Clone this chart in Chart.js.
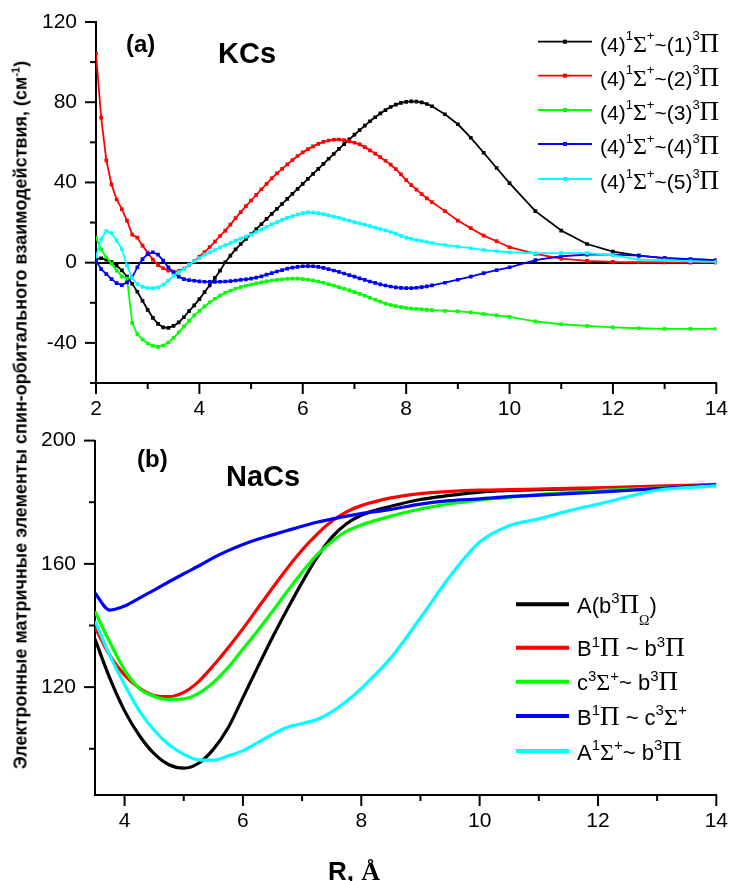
<!DOCTYPE html>
<html><head><meta charset="utf-8">
<script src="https://cdn.jsdelivr.net/npm/chart.js@4.4.1/dist/chart.umd.min.js"></script>
<style>
html,body{margin:0;padding:0;background:#fff;}
#wrap{position:relative;width:731px;height:881px;overflow:hidden;background:#fff;}
#ca{position:absolute;left:0;top:0;}
#cb{position:absolute;left:0;top:420px;}
#ylab{position:absolute;left:21px;top:415px;transform:translate(-50%,-50%) rotate(-90deg);white-space:nowrap;font:bold 18px "Liberation Sans",Arial,sans-serif;color:#000;}
#ylab sup{font-size:11px;vertical-align:7px;line-height:0;}
</style></head>
<body>
<div id="wrap">
<canvas id="ca" width="731" height="420" style="width:731px;height:420px"></canvas>
<canvas id="cb" width="731" height="461" style="width:731px;height:461px"></canvas>
<div id="ylab">Электронные матричные элементы спин-орбитального взаимодействия, (см<sup>-1</sup>)</div>
</div>
<script>
// ---------- Panel (a) KCs ----------
const rA = [2.0,2.1,2.2,2.3,2.4,2.5,2.6,2.7,2.8,2.9,
            3.0,3.1,3.2,3.3,3.4,3.5,3.6,3.7,3.8,3.9,
            4.0,4.1,4.2,4.3,4.4,4.5,4.6,4.7,4.8,4.9,
            5.0,5.1,5.2,5.3,5.4,5.5,5.6,5.7,5.8,5.9,
            6.0,6.1,6.2,6.3,6.4,6.5,6.6,6.7,6.8,6.9,
            7.0,7.1,7.2,7.3,7.4,7.5,7.6,7.7,7.8,7.9,
            8.0,8.1,8.2,8.3,8.4,8.5,8.75,9.0,9.25,9.5,
            9.75,10.0,10.5,11.0,11.5,12.0,12.5,13.0,13.5,14.0];
const kcs1 = [1.8,2.2,1.5,0.3,-1.5,-3.8,-7,-10.5,-14.5,-19,
              -23.5,-27.5,-30.5,-32.3,-32.5,-31.5,-29.8,-27.2,-24.2,-21.3,
              -18.2,-14.7,-11.3,-7.6,-4,0.2,3.5,6.6,9.3,11.8,
              14.2,16.7,19.2,21.8,24.3,26.8,29.3,31.8,34.3,36.8,
              39.3,41.8,44.3,46.8,49.3,51.8,54.2,56.7,59.1,61.5,
              63.8,66.1,68.3,70.5,72.5,74.4,76.1,77.6,78.8,79.7,
              80.2,80.4,80.3,79.9,79.1,78,74,69,62.3,54.8,
              47.2,39.7,25.7,16,9.3,5.5,3.5,2.3,1.7,1.2];
const kcs2 = [104.3,72.3,51,39,31.5,26.7,21,14,12.5,8.5,
              5,1.5,-1.2,-2.8,-4,-4.5,-4.2,-3,-1.3,0.8,
              3,5.3,7.8,10.5,13.3,16,19,22.2,25.2,28.2,
              31,33.8,36.6,39.3,42,44.5,46.8,49,51.2,53.2,
              55,56.6,58,59.2,60.2,60.9,61.3,61.4,61.1,60.5,
              59.8,59,57.6,56,54.4,52.6,50.8,48.9,46.6,44,
              41.2,38.7,36.4,34.2,32.1,30.2,25.7,21,17.2,13.5,
              10.7,7.7,4.4,2,0.9,0.4,0.2,0.1,0,0];
const kcs3 = [12.5,6.5,2.7,-0.5,-4,-6.8,-8,-30,-35.7,-38.3,
              -40.3,-41.5,-42,-41.3,-39.8,-37.5,-34.8,-31.8,-29,-26.3,
              -24,-21.8,-19.8,-18,-16.4,-15,-14,-13,-12.2,-11.5,
              -10.9,-10.3,-9.8,-9.3,-8.9,-8.6,-8.3,-8.1,-8,-8,
              -8.2,-8.5,-8.9,-9.4,-10,-10.7,-11.4,-12.2,-13,-13.8,
              -14.7,-15.6,-16.5,-17.5,-18.5,-19.5,-20.4,-21.1,-21.7,-22.2,
              -22.6,-22.9,-23.1,-23.3,-23.5,-23.7,-24,-24.3,-24.8,-25.6,
              -26.3,-27,-29.3,-30.7,-31.5,-32.3,-32.7,-33,-33,-33];
const kcs4 = [1,-3.2,-5.7,-8.2,-10.2,-11.2,-9.8,-7.3,-2.3,1.8,
              4.3,5.2,4,1,-2.3,-4.8,-7,-8.2,-8.7,-9,
              -9.3,-9.5,-9.6,-9.6,-9.5,-9.4,-9.2,-8.9,-8.6,-8.3,
              -8,-7.5,-6.8,-6,-5.2,-4.4,-3.7,-3,-2.5,-2.1,
              -1.8,-1.7,-1.8,-2.1,-2.6,-3.2,-3.9,-4.6,-5.4,-6.2,
              -7,-7.8,-8.6,-9.4,-10.1,-10.8,-11.4,-11.9,-12.3,-12.6,
              -12.7,-12.7,-12.5,-12.2,-11.8,-11.3,-10,-8.5,-7,-5.2,
              -3.7,-2.3,1.3,3.2,4,4,3.5,2.3,1.7,1.3];
const kcs5 = [3,11.8,15.7,14.7,11,6.8,-1.5,-7.7,-10.7,-12,
              -12.7,-12.7,-12.3,-11,-9,-6.5,-4.8,-3.2,-1,0.7,
              2.3,4,5.2,6.3,7.7,8.8,9.8,11,12,13,
              14,15.3,16.6,17.9,19.1,20.2,21.3,22.3,23.2,24,
              24.7,25.1,25,24.7,24.2,23.6,23,22.3,21.6,20.9,
              20.2,19.6,18.9,18.2,17.5,16.8,16.1,15.3,14.5,13.4,
              12.5,11.9,11.3,10.8,10.3,9.8,8.8,8,7.2,6.3,
              5.7,5.2,4.7,4.8,4.8,3.8,1.5,1.2,0.7,0.4];
const seriesA = [kcs1,kcs2,kcs3,kcs4,kcs5];
const labelsA = ['(4)^{1}Σ^{+}~(1)^{3}Π','(4)^{1}Σ^{+}~(2)^{3}Π','(4)^{1}Σ^{+}~(3)^{3}Π','(4)^{1}Σ^{+}~(4)^{3}Π','(4)^{1}Σ^{+}~(5)^{3}Π'];
const xTicksA = [2,3,4,5,6,7,8,9,10,11,12,13,14];
const xLabelsA = [2,4,6,8,10,12,14];
const yTicksA = [-60,-40,-20,0,20,40,60,80,100,120];
const yLabelsA = [-40,0,40,80,120];

// ---------- Panel (b) NaCs ----------
const rB = [3.5,3.75,4,4.25,4.5,4.75,5,5.25,5.5,5.75,6,6.25,6.5,6.75,7,7.25,7.5,7.75,8,8.5,9,9.5,10,10.5,11,11.5,12,13,14];
const nacsA  = [135.6,122.9,112.3,104.3,98.4,94.8,93.7,95.3,99.8,106.8,116.6,126.5,136.2,145.3,154,162,168.6,173,175.8,178.7,180.9,182.2,183.3,183.8,184.1,184.3,184.5,185,185.6];
const nacsB  = [139.4,130.3,123.9,119.7,117.3,116.9,118.3,121.8,127,132.8,139,145.6,152.2,158.6,164.5,169.6,173.8,176.9,178.9,181.4,182.8,183.5,183.9,184.1,184.3,184.5,184.7,185.2,185.8];
const nacsC  = [144.6,134.6,125.6,119.5,117,116,116.2,118,121.5,126.4,132.4,138.3,144.6,151.1,157.3,162.9,167.2,170.6,172.6,175.5,177.8,179.5,180.7,181.6,182.5,183.1,183.8,184.6,185.4];
const nacsD  = [150.5,145,146.3,148.9,151.5,154.2,156.8,159.3,162,164.3,166.3,168,169.4,170.8,172.2,173.5,174.5,175.5,176.3,177.7,179.4,180.5,181.1,181.8,182.3,182.8,183.3,184.4,185.6];
const nacsE  = [141.5,130.3,120.8,112.3,106,101.3,98.2,96.4,96.3,97.7,99.4,102,104.7,107,108.2,109.5,112,115.4,119.6,129.5,142.5,156,167.1,172.4,174.6,177.2,179.4,183.9,185.3];
const seriesB = [nacsA,nacsB,nacsC,nacsD,nacsE];
const labelsB = ['A(b^{3}Π_{Ω})','B^{1}Π ~ b^{3}Π','c^{3}Σ^{+}~ b^{3}Π','B^{1}Π ~ c^{3}Σ^{+}','A^{1}Σ^{+}~ b^{3}Π'];
const xTicksB = [4,5,6,7,8,9,10,11,12,13,14];
const xLabelsB = [4,6,8,10,12,14];
const yTicksB = [100,120,140,160,180,200];
const yLabelsB = [120,160,200];

const colors = ['#000000','#ff0000','#00ff00','#0000ff','#00ffff'];
const SANS = '"Liberation Sans", Arial, sans-serif';
const SERIF = '"Liberation Serif", "Times New Roman", serif';

function parseRuns(s){
  const runs=[]; let i=0;
  while(i<s.length){
    if((s[i]==='^'||s[i]==='_') && s[i+1]==='{'){
      const j=s.indexOf('}',i);
      runs.push({k:s[i]==='^'?'sup':'sub',t:s.slice(i+2,j)}); i=j+1; continue;
    }
    const ch=s[i];
    if('ΣΠΩ'.includes(ch)) runs.push({k:'g',t:ch});
    else { if(runs.length && runs[runs.length-1].k==='n') runs[runs.length-1].t+=ch; else runs.push({k:'n',t:ch}); }
    i++;
  }
  return runs;
}
function drawRich(ctx,x,y,str,st){
  let cx=x;
  for(const r of parseRuns(str)){
    let dy=0;
    if(r.k==='n') ctx.font=`${st.size}px ${SANS}`;
    else if(r.k==='g') ctx.font=`${r.t==='Π'?st.pi:st.sig}px ${SERIF}`;
    else if(r.k==='sup'){ ctx.font=`${st.sup}px ${SANS}`; dy=-st.supDy; }
    else { ctx.font=`${st.om}px ${SERIF}`; dy=st.subDy; }
    ctx.fillText(r.t,cx,y+dy);
    cx+=ctx.measureText(r.t).width;
  }
}

const tickPlugin = {
  id:'axisTicks',
  afterDraw(chart,args,o){
    const ctx=chart.ctx, ca=chart.chartArea, xs=chart.scales.x, ys=chart.scales.y;
    ctx.save(); ctx.strokeStyle='#000'; ctx.lineWidth=2;
    for(const t of xs.ticks){
      const p=xs.getPixelForValue(t.value), len=o.xMajor.includes(t.value)?11:6;
      ctx.beginPath(); ctx.moveTo(p,ca.bottom); ctx.lineTo(p,ca.bottom+len); ctx.stroke();
    }
    for(const t of ys.ticks){
      const p=ys.getPixelForValue(t.value), len=o.yMajor.includes(t.value)?11:6;
      ctx.beginPath(); ctx.moveTo(ca.left,p); ctx.lineTo(ca.left-len,p); ctx.stroke();
    }
    ctx.restore();
  }
};

const annoPlugin = {
  id:'anno',
  afterDraw(chart,args,o){
    const ctx=chart.ctx;
    ctx.save(); ctx.fillStyle='#000'; ctx.textBaseline='alphabetic'; ctx.textAlign='left';
    for(const t of o.texts){ ctx.font=t.font; ctx.fillText(t.text,t.x,t.y); }
    const L=o.legend;
    L.labels.forEach((lab,i)=>{
      const y=L.y[i];
      ctx.strokeStyle=colors[i]; ctx.lineWidth=L.lw;
      ctx.beginPath(); ctx.moveTo(L.x0,y); ctx.lineTo(L.x1,y); ctx.stroke();
      if(L.marker){ ctx.fillStyle=colors[i]; ctx.fillRect((L.x0+L.x1)/2-L.marker/2,y-L.marker/2,L.marker,L.marker); }
      ctx.fillStyle='#000';
      drawRich(ctx,L.tx,y+L.base,lab,L.st);
    });
    if(o.xTitle){
      ctx.font=`bold 26px ${SANS}`; ctx.fillText('R, ',o.xTitle.x,o.xTitle.y);
      const w=ctx.measureText('R, ').width;
      ctx.font=`bold 26px ${SERIF}`; ctx.fillText('Å',o.xTitle.x+w,o.xTitle.y);
    }
    ctx.restore();
  }
};

const tickFont={family:SANS,size:21};
function makeScales(cfg){
  return {
    x:{type:'linear',min:cfg.xmin,max:cfg.xmax,
       afterBuildTicks:s=>{s.ticks=cfg.xTicks.map(v=>({value:v}));},
       afterFit:s=>{s.height=cfg.xh;},
       ticks:{autoSkip:false,maxRotation:0,minRotation:0,padding:3,color:'#000',font:tickFont,
              callback:v=>cfg.xLabels.includes(v)?String(v):''},
       grid:{display:true,drawOnChartArea:false,drawTicks:true,tickLength:11,tickColor:'rgba(0,0,0,0)',color:'rgba(0,0,0,0)'},
       border:{display:true,color:'#000',width:2}},
    y:{type:'linear',min:cfg.ymin,max:cfg.ymax,
       afterBuildTicks:s=>{s.ticks=cfg.yTicks.map(v=>({value:v}));},
       afterFit:s=>{s.width=cfg.yw;},
       ticks:{autoSkip:false,padding:8,color:'#000',font:tickFont,
              callback:v=>cfg.yLabels.includes(v)?String(v):''},
       grid:{display:true,drawOnChartArea:cfg.zeroLine,drawTicks:true,tickLength:11,tickColor:'rgba(0,0,0,0)',
             lineWidth:2,color:c=>(cfg.zeroLine&&c.tick&&c.tick.value===0)?'#000':'rgba(0,0,0,0)'},
       border:{display:true,color:'#000',width:2}}
  };
}

new Chart(document.getElementById('ca'),{
  type:'line',
  data:{datasets:seriesA.map((vals,i)=>({
    label:labelsA[i],
    data:rA.map((x,j)=>({x:x,y:vals[j]})),
    borderColor:colors[i],backgroundColor:colors[i],borderWidth:1.8,
    pointStyle:'rect',pointRadius:2.6,pointBorderWidth:0,pointBackgroundColor:colors[i],
    tension:0,order:4-i
  }))},
  options:{
    responsive:false,animation:false,devicePixelRatio:1,
    layout:{padding:{top:22,right:14,left:0,bottom:0}},
    events:[],
    plugins:{legend:{display:false},tooltip:{enabled:false},
      axisTicks:{xMajor:xLabelsA,yMajor:yLabelsA},
      anno:{texts:[{text:'(a)',x:126,y:52,font:`bold 24px ${SANS}`},{text:'KCs',x:218,y:63,font:`bold 29px ${SANS}`}],
            legend:{labels:labelsA,y:[41.7,75.7,110,144,179],x0:538,x1:592,tx:600,lw:1.8,marker:4,base:10,
                    st:{size:21,sig:24,pi:27,om:14,sup:13,supDy:11.5,subDy:12}}}},
    scales:makeScales({xmin:2,xmax:14,xTicks:xTicksA,xLabels:xLabelsA,xh:37,ymin:-60,ymax:120,yTicks:yTicksA,yLabels:yLabelsA,yw:96,zeroLine:true})
  },
  plugins:[tickPlugin,annoPlugin]
});

new Chart(document.getElementById('cb'),{
  type:'line',
  data:{datasets:seriesB.map((vals,i)=>({
    label:labelsB[i],
    data:rB.map((x,j)=>({x:x,y:vals[j]})),
    borderColor:colors[i],backgroundColor:colors[i],borderWidth:3.2,
    pointRadius:0,cubicInterpolationMode:'monotone',order:4-i
  }))},
  options:{
    responsive:false,animation:false,devicePixelRatio:1,
    layout:{padding:{top:15,right:14,left:0,bottom:0}},
    events:[],
    plugins:{legend:{display:false},tooltip:{enabled:false},
      axisTicks:{xMajor:xLabelsB,yMajor:yLabelsB},
      anno:{texts:[{text:'(b)',x:137,y:47,font:`bold 24px ${SANS}`},{text:'NaCs',x:226,y:66,font:`bold 29px ${SANS}`}],
            legend:{labels:labelsB,y:[184.3,227.7,261.7,296,331],x0:516,x1:569,tx:577,lw:4,marker:0,base:8.5,
                    st:{size:22,sig:24,pi:27,om:14,sup:15,supDy:9.5,subDy:12}},
            xTitle:{x:328,y:460}}},
    scales:makeScales({xmin:3.5,xmax:14,xTicks:xTicksB,xLabels:xLabelsB,xh:86,ymin:85,ymax:200,yTicks:yTicksB,yLabels:yLabelsB,yw:95,zeroLine:false})
  },
  plugins:[tickPlugin,annoPlugin]
});
</script>
</body></html>
